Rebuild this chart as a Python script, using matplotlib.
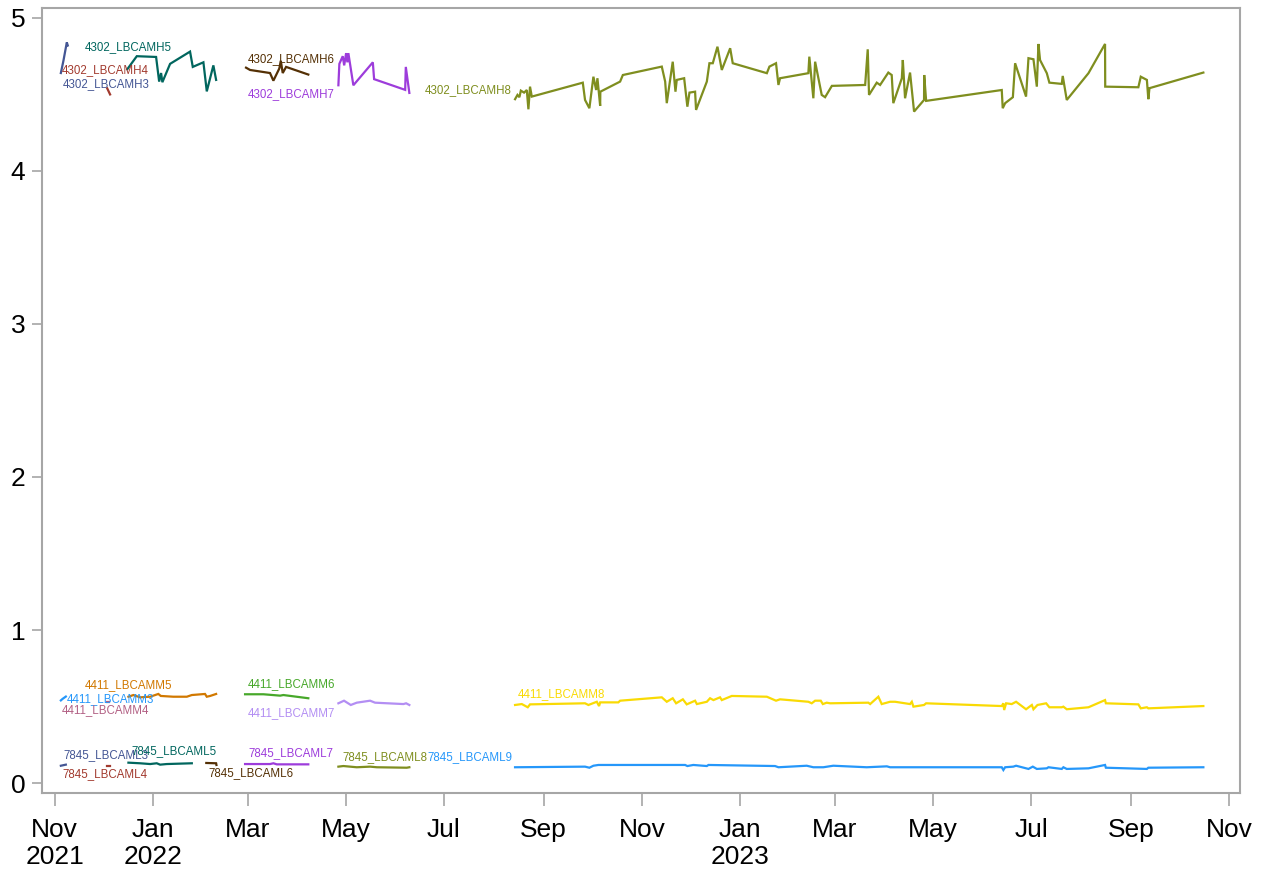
import numpy as np
import pandas as pd
import matplotlib
matplotlib.use('Agg')
import matplotlib.pyplot as plt
import matplotlib.dates as mdates

START = pd.Timestamp('2021-11-01')

h3_day = [3.9, 5.5, 7.6, 8.2]
h3_val = [4.64, 4.72, 4.84, 4.82]
h4_day = [32.7, 33.6, 34.5]
h4_val = [4.54, 4.52, 4.50]
h5_day = [45.2, 51.1, 63.1, 65.0, 66.2, 67.0, 71.8, 84.2, 85.9, 92.5, 94.6, 98.7, 100.4]
h5_val = [4.665, 4.75, 4.745, 4.584, 4.64, 4.58, 4.70, 4.78, 4.68, 4.71, 4.52, 4.69, 4.595]
h6_day = [119.0, 121.5, 133.9, 136.0, 139.7, 140.6, 141.8, 143.9, 157.7]
h6_val = [4.675, 4.66, 4.64, 4.59, 4.67, 4.72, 4.64, 4.68, 4.63]
h7_day = [176.4, 177.0, 179.1, 180.0, 181.2, 182.0, 182.6, 185.7, 197.8, 198.6, 217.9, 218.3, 220.5]
h7_val = [4.56, 4.70, 4.75, 4.69, 4.77, 4.71, 4.77, 4.56, 4.71, 4.60, 4.53, 4.68, 4.51]
h8_day = [286.2, 287.7, 288.9, 289.8, 291.8, 293.5, 294.5, 295.5, 296.6, 328.3, 329.7, 332.4,
          334.9, 336.6, 337.4, 339.1, 339.2, 351.5, 353.2, 377.4, 379.5, 380.5, 384.2, 385.9,
          386.7, 391.3, 393.3, 394.6, 398.1, 398.7, 405.4, 407.0, 409.1, 412.0, 414.7, 419.9,
          421.5, 442.7, 444.3, 448.4, 449.9, 450.9, 468.5, 469.1, 471.6, 472.7, 476.8, 478.9,
          483.1, 503.8, 505.4, 506.2, 511.0, 513.1, 518.2, 520.3, 521.3, 526.6, 527.2, 528.6,
          531.7, 534.2, 540.4, 540.5, 541.7, 588.7, 589.3, 590.8, 595.6, 597.0, 603.8, 605.3,
          608.4, 610.5, 611.5, 612.5, 616.7, 618.3, 626.0, 626.6, 629.1, 642.6, 652.9, 653.0,
          673.6, 675.1, 678.9, 679.8, 680.5, 714.0]
h8_val = [4.469, 4.497, 4.482, 4.525, 4.512, 4.529, 4.403, 4.551, 4.486, 4.577, 4.464, 4.410,
          4.616, 4.529, 4.606, 4.425, 4.518, 4.584, 4.627, 4.682, 4.584, 4.443, 4.714, 4.518,
          4.595, 4.606, 4.420, 4.512, 4.518, 4.399, 4.584, 4.704, 4.704, 4.812, 4.660, 4.802,
          4.704, 4.639, 4.682, 4.704, 4.562, 4.606, 4.639, 4.747, 4.475, 4.714, 4.497, 4.482,
          4.556, 4.562, 4.795, 4.497, 4.577, 4.562, 4.643, 4.627, 4.443, 4.606, 4.725, 4.475,
          4.643, 4.388, 4.464, 4.627, 4.458, 4.529, 4.410, 4.443, 4.482, 4.704, 4.486, 4.737,
          4.730, 4.551, 4.830, 4.725, 4.639, 4.577, 4.569, 4.621, 4.464, 4.639, 4.830, 4.551,
          4.547, 4.616, 4.595, 4.469, 4.541, 4.643]

m3_day = [3.9, 5.0, 7.0]
m3_val = [0.54, 0.55, 0.565]
m4_day = [32.4, 34.0]
m4_val = [0.53, 0.53]
m5_day = [45.9, 49.0, 53.1, 59.4, 64.5, 66.0, 73.8, 82.2, 85.3, 93.5, 94.6, 96.7, 100.4]
m5_val = [0.564, 0.575, 0.560, 0.564, 0.582, 0.569, 0.564, 0.564, 0.575, 0.582, 0.564, 0.569, 0.582]
m6_day = [118.4, 129.8, 140.2, 142.2, 157.7]
m6_val = [0.580, 0.580, 0.571, 0.575, 0.554]
m7_day = [176.4, 179.9, 184.1, 187.8, 196.1, 199.2, 216.8, 218.5, 220.5]
m7_val = [0.521, 0.538, 0.510, 0.525, 0.538, 0.525, 0.516, 0.521, 0.510]
m8_day = [286.2, 290.4, 294.1, 295.5, 329.7, 331.8, 337.0, 338.4, 339.1, 350.4, 351.5, 377.4,
          380.5, 384.2, 386.3, 390.5, 392.9, 398.1, 399.2, 405.4, 407.4, 409.5, 413.6, 414.7,
          420.9, 442.7, 448.4, 450.9, 468.5, 470.6, 472.7, 476.2, 477.5, 479.9, 482.0, 505.8,
          506.9, 512.0, 514.1, 519.3, 522.4, 531.7, 532.8, 533.8, 540.4, 541.7, 588.7, 589.7,
          590.2, 591.4, 594.9, 597.6, 603.8, 607.4, 608.4, 610.9, 616.3, 618.3, 626.0, 627.0,
          629.1, 642.6, 652.9, 653.4, 673.6, 675.1, 678.9, 679.8, 714.0]
m8_val = [0.510, 0.516, 0.495, 0.514, 0.521, 0.510, 0.531, 0.503, 0.527, 0.527, 0.538, 0.560,
          0.531, 0.554, 0.521, 0.547, 0.514, 0.538, 0.516, 0.531, 0.554, 0.542, 0.560, 0.542,
          0.569, 0.564, 0.538, 0.547, 0.531, 0.521, 0.538, 0.538, 0.516, 0.525, 0.521, 0.525,
          0.516, 0.564, 0.516, 0.531, 0.531, 0.516, 0.531, 0.499, 0.510, 0.521, 0.503, 0.521,
          0.477, 0.521, 0.516, 0.531, 0.482, 0.510, 0.482, 0.510, 0.521, 0.495, 0.495, 0.499,
          0.482, 0.495, 0.542, 0.521, 0.514, 0.488, 0.495, 0.488, 0.503]

l3_day = [3.9, 7.0]
l3_val = [0.113, 0.120]
l4_day = [32.4, 34.5]
l4_val = [0.113, 0.113]
l5_day = [45.9, 53.1, 59.4, 63.5, 65.6, 69.7, 85.3]
l5_val = [0.133, 0.129, 0.124, 0.129, 0.120, 0.124, 0.129]
l6_day = [94.3, 100.4, 100.6]
l6_val = [0.131, 0.129, 0.118]
l7_day = [118.4, 133.9, 136.0, 138.1, 157.7]
l7_val = [0.124, 0.124, 0.129, 0.122, 0.122]
l8_day = [176.4, 179.5, 187.8, 196.1, 200.3, 218.9, 220.5]
l8_val = [0.107, 0.111, 0.103, 0.107, 0.103, 0.100, 0.103]
l9_day = [286.2, 329.7, 332.4, 334.9, 338.0, 391.9, 393.3, 397.0, 405.4, 406.4, 447.8, 449.9,
          467.5, 471.6, 477.8, 484.0, 504.8, 517.3, 519.3, 588.7, 589.7, 590.8, 595.9, 597.6,
          605.3, 608.0, 610.5, 616.7, 617.7, 626.0, 627.0, 629.1, 642.6, 652.9, 653.4, 678.9,
          679.8, 714.0]
l9_val = [0.103, 0.107, 0.100, 0.113, 0.118, 0.118, 0.111, 0.118, 0.111, 0.118, 0.111, 0.103,
          0.113, 0.103, 0.103, 0.113, 0.103, 0.109, 0.103, 0.103, 0.085, 0.103, 0.107, 0.113,
          0.092, 0.107, 0.092, 0.096, 0.103, 0.092, 0.103, 0.092, 0.096, 0.118, 0.100, 0.092,
          0.100, 0.103]

# SAS HTMLBlue GraphData colours, cycled
C = ['#445694', '#A23A2E', '#01665E', '#543005', '#9D3CDB', '#7F8E1F',
     '#2597FA', '#B26084', '#D17800', '#47A82A', '#B38EF3', '#F9DA04']

series = [
    ('4302_LBCAMH3', h3_day, h3_val, C[0]),
    ('4302_LBCAMH4', h4_day, h4_val, C[1]),
    ('4302_LBCAMH5', h5_day, h5_val, C[2]),
    ('4302_LBCAMH6', h6_day, h6_val, C[3]),
    ('4302_LBCAMH7', h7_day, h7_val, C[4]),
    ('4302_LBCAMH8', h8_day, h8_val, C[5]),
    ('4411_LBCAMM3', m3_day, m3_val, C[6]),
    ('4411_LBCAMM4', m4_day, m4_val, C[7]),
    ('4411_LBCAMM5', m5_day, m5_val, C[8]),
    ('4411_LBCAMM6', m6_day, m6_val, C[9]),
    ('4411_LBCAMM7', m7_day, m7_val, C[10]),
    ('4411_LBCAMM8', m8_day, m8_val, C[11]),
    ('7845_LBCAML3', l3_day, l3_val, C[0]),
    ('7845_LBCAML4', l4_day, l4_val, C[1]),
    ('7845_LBCAML5', l5_day, l5_val, C[2]),
    ('7845_LBCAML6', l6_day, l6_val, C[3]),
    ('7845_LBCAML7', l7_day, l7_val, C[4]),
    ('7845_LBCAML8', l8_day, l8_val, C[5]),
    ('7845_LBCAML9', l9_day, l9_val, C[6]),
]

# where each curve label sits (left edge day, centre value)
label_pos = {
    '4302_LBCAMH3': (5.3, 4.57), '4302_LBCAMH4': (4.7, 4.66), '4302_LBCAMH5': (19.0, 4.81),
    '4302_LBCAMH6': (120.3, 4.73), '4302_LBCAMH7': (120.3, 4.50), '4302_LBCAMH8': (230.3, 4.53),
    '4411_LBCAMM3': (7.8, 0.55), '4411_LBCAMM4': (4.7, 0.477), '4411_LBCAMM5': (19.0, 0.64),
    '4411_LBCAMM6': (120.3, 0.647), '4411_LBCAMM7': (120.3, 0.458), '4411_LBCAMM8': (288.1, 0.582),
    '7845_LBCAML3': (5.3, 0.183), '7845_LBCAML4': (4.7, 0.059), '7845_LBCAML5': (47.5, 0.209),
    '7845_LBCAML6': (95.4, 0.065), '7845_LBCAML7': (120.3, 0.196), '7845_LBCAML8': (178.7, 0.17),
    '7845_LBCAML9': (231.5, 0.17),
}


def to_dates(days):
    return START + pd.to_timedelta(np.asarray(days, dtype=float), unit='D')


fig = plt.figure(figsize=(12.62, 8.69), dpi=100)
ax = fig.add_axes([0.0333, 0.0875, 0.9493, 0.9033])

for name, d, v, col in series:
    ax.plot(to_dates(d), v, color=col, lw=1.6, solid_joinstyle='miter')
    lx, ly = label_pos[name]
    ax.text(to_dates([lx])[0], ly, name, color=col, fontsize=8.3,
            family=['Liberation Sans', 'DejaVu Sans'], ha='left', va='center')

ax.set_xlim(to_dates([-7.8])[0], to_dates([736.8])[0])
ax.set_ylim(-0.065, 5.065)
ax.set_yticks([0, 1, 2, 3, 4, 5])

tick_dates = pd.date_range('2021-11-01', '2023-11-01', freq='2MS')
tick_labels = []
for t in tick_dates:
    lab = t.strftime('%b')
    if t == tick_dates[0] or t.month == 1:
        lab += '\n' + str(t.year)
    tick_labels.append(lab)
ax.set_xticks(tick_dates)
ax.set_xticklabels(tick_labels, linespacing=1.15)

grey = '#A6A6A6'
for s in ax.spines.values():
    s.set_color(grey)
    s.set_linewidth(1.5)
ax.tick_params(axis='both', colors=grey, labelcolor='black', length=7, width=1.2,
               labelsize=19)
ax.tick_params(axis='x', length=9, pad=9)
ax.tick_params(axis='y', pad=5)
for lab in ax.get_xticklabels() + ax.get_yticklabels():
    lab.set_family(['Liberation Sans Narrow', 'Liberation Sans'])

fig.savefig('out.png', dpi=100)
